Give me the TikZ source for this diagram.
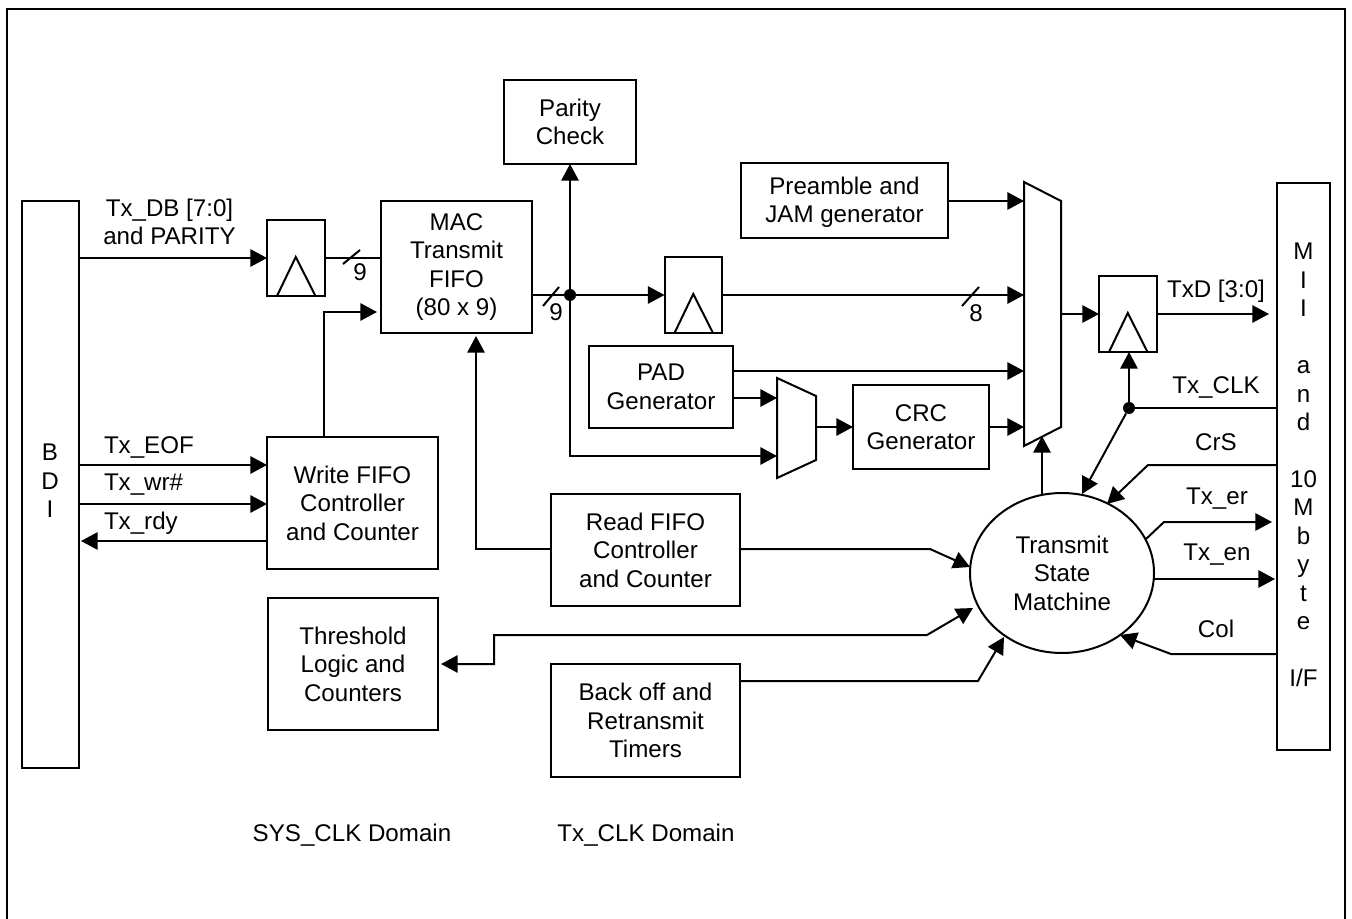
\documentclass[tikz,border=0pt]{standalone}
\usepackage{fontspec}
\setmainfont{Liberation Sans}
\usetikzlibrary{arrows.meta,shapes.geometric,calc}
\tikzset{
  boxst/.style={draw,line width=1.5pt,inner sep=0pt,outer sep=0pt,align=center,fill=white},
  anchorbox/.style={inner sep=0pt,outer sep=0pt},
  wire/.style={line width=1.5pt,line join=miter},
  arr/.style={wire,-{Triangle[length=12.5pt,width=13pt]}},
  biarr/.style={wire,{Triangle[length=12.5pt,width=13pt]}-{Triangle[length=12.5pt,width=13pt]}},
  dotst/.style={circle,fill=black,inner sep=0pt,minimum size=9pt},
  lab/.style={inner sep=0pt,outer sep=0pt,align=center},
  every node/.append style={font=\fontsize{18.1}{21.35}\selectfont},
}
\newcommand{\pxbox}[6]{\node[boxst,minimum width={(#4-#2)*0.75pt},minimum height={(#5-#3)*0.75pt}] (#1) at ({(#2+#4)/2},{(#3+#5)/2}) {#6};}
% flip-flop: box plus clock triangle
\newcommand{\pxff}[3]{\pxbox{#1}{#2}{#3}{#2+57.5}{#3+76}{}
  \draw[wire] ($(#1.south west)+(10,0)$) -- ($(#1.south)+(0,-39)$) -- ($(#1.south east)+(-9,0)$);}
% mux: invisible box, trapezoid drawn from its corners
\newcommand{\pxmux}[6]{\node[anchorbox,minimum width={(#4-#2)*0.75pt},minimum height={(#5-#3)*0.75pt}] (#1) at ({(#2+#4)/2},{(#3+#5)/2}) {};
  \draw[wire,fill=white] (#1.north west) -- ($(#1.north east)+(0,#6)$) -- ($(#1.south east)+(0,-#6)$) -- (#1.south west) -- cycle;}
\begin{document}
\begin{tikzpicture}[x=0.75pt,y=-0.75pt]
\useasboundingbox (0,0) rectangle (1352,919);
\draw[line width=1.7pt] (7,925) -- (7,9) -- (1345,9) -- (1345,925);
\pxbox{bdi}{22}{201}{79}{768}{}
\node[lab] (bditext) at (50,481) {B\\D\\I};
\pxff{ffa}{267}{220}
\pxbox{fifo}{381}{201}{532}{333}{MAC\\Transmit\\FIFO\\(80 x 9)}
\pxbox{parity}{504}{80}{636}{164}{Parity\\Check}
\pxbox{pre}{741}{163}{948}{238}{}
\node[lab] (pretext) at (844.5,202) {Preamble and\\JAM generator};
\pxmux{bigmux}{1024}{182}{1061}{446}{19}
\pxff{ffb}{664.5}{257}
\pxff{ffc}{1099}{276}
\pxbox{mii}{1277}{183}{1330}{750}{}
\node[lab] (miitext) at (1303.5,465) {M\\I\\I\\ \\a\\n\\d\\ \\10\\M\\b\\y\\t\\e\\ \\I/F};
\pxbox{pad}{589}{346}{733}{428}{PAD\\Generator}
\pxmux{smux}{777}{378}{816}{478}{18}
\pxbox{crc}{853}{385}{989}{469}{CRC\\Generator}
\pxbox{wctl}{267}{437}{438}{569}{Write FIFO\\Controller\\and Counter}
\pxbox{rctl}{551}{494}{740}{606}{Read FIFO\\Controller\\and Counter}
\pxbox{thr}{268}{598}{438}{730}{Threshold\\Logic and\\Counters}
\pxbox{boff}{551}{664}{740}{777}{Back off and\\Retransmit\\Timers}
\node[boxst,ellipse,minimum width=138pt,minimum height=120pt] (fsm) at (1062,573) {Transmit\\State\\Matchine};
% junctions and free ends
\node[dotst] (da) at (570,295) {};
\node[dotst] (db) at (1129,408) {};
\coordinate (tipclk) at (1082,494);
\coordinate (tipcrs) at (1107,504);
\coordinate (erout) at (1146,539);
\coordinate (tipcol) at (1120,635);
\coordinate (tipread) at (970,567);
\coordinate (tipthr) at (973,608);
\coordinate (tipboff) at (1004,637);
% left side
\draw[arr] (bdi.east |- 0,258) -- (ffa.west |- 0,258);
\draw[wire] (ffa.east |- 0,258) -- (fifo.west |- 0,258);
\draw[wire] (343,264) -- (360,250);
\draw[arr] (wctl.north -| 324,0) -- (324,312) -- (377,312);
\draw[arr] (bdi.east |- 0,465) -- (wctl.west |- 0,465);
\draw[arr] (bdi.east |- 0,504) -- (wctl.west |- 0,504);
\draw[arr] (wctl.west |- 0,541) -- (81,541);
% fifo out
\draw[wire] (fifo.east |- da) -- (da);
\draw[wire] (543,306) -- (559,287);
\draw[arr] (da) -- (ffb.west |- da);
\draw[arr] (da) -- (parity.south -| da);
\draw[arr] (da) -- (570,456) -- (smux.west |- 0,456);
\draw[arr] (rctl.west |- 0,549) -- (476,549) -- (476,336);
% ffb to mux
\draw[arr] (ffb.east |- 0,295) -- (bigmux.west |- 0,295);
\draw[wire] (962,306) -- (979,287);
\draw[arr] (pre.east |- 0,201) -- (bigmux.west |- 0,201);
\draw[arr] (pad.east |- 0,371) -- (bigmux.west |- 0,371);
\draw[arr] (pad.east |- 0,398) -- (smux.west |- 0,398);
\draw[arr] (smux.east |- 0,427) -- (crc.west |- 0,427);
\draw[arr] (crc.east |- 0,427) -- (bigmux.west |- 0,427);
\draw[arr] (bigmux.east |- 0,314) -- (ffc.west |- 0,314);
\draw[arr] (ffc.east |- 0,314) -- (1269,314);
% clock and state machine
\draw[wire] (mii.west |- db) -- (db);
\draw[arr] (db) -- (ffc.south -| db);
\draw[arr] (db) -- (tipclk);
\draw[arr] (mii.west |- 0,465) -- (1148,465) -- (tipcrs);
\draw[arr] (1042,494) -- (1042,436);
\draw[arr] (erout) -- (1164,522) -- (1272,522);
\draw[arr] (1153,579) -- (1275,579);
\draw[arr] (mii.west |- 0,654) -- (1171,654) -- (tipcol);
\draw[arr] (rctl.east |- 0,549) -- (930,549) -- (tipread);
\draw[biarr] (441,664) -- (494,664) -- (494,635) -- (927,635) -- (tipthr);
\draw[arr] (boff.east |- 0,681) -- (978,681) -- (tipboff);
% labels
\node[lab] (l1) at (169.5,222) {Tx\_DB [7:0]\\and PARITY};
\node[lab] (l2) at (360,272) {9};
\node[lab] (l3) at (556,312) {9};
\node[lab] (l4) at (976,313) {8};
\node[lab,anchor=west] (l5) at (104,447.5) {Tx\_EOF};
\node[lab,anchor=west] (l6) at (104,485) {Tx\_wr\#};
\node[lab,anchor=west] (l7) at (104,523) {Tx\_rdy};
\node[lab] (l8) at (1216,291) {TxD [3:0]};
\node[lab] (l9) at (1216,387) {Tx\_CLK};
\node[lab] (l10) at (1216,442) {CrS};
\node[lab] (l11) at (1217,499) {Tx\_er};
\node[lab] (l12) at (1217,555) {Tx\_en};
\node[lab] (l13) at (1216,629) {Col};
\node[lab] (l14) at (352,835) {SYS\_CLK Domain};
\node[lab] (l15) at (646,835) {Tx\_CLK Domain};
\end{tikzpicture}
\end{document}
